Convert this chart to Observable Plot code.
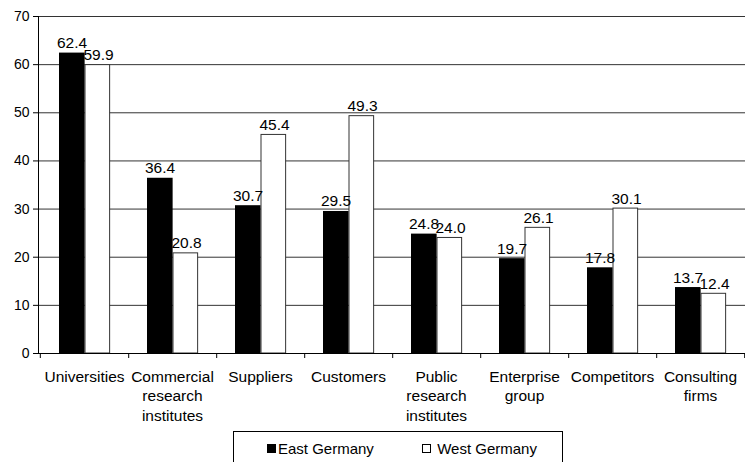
<!DOCTYPE html>
<html>
<head>
<meta charset="utf-8">
<script src="https://cdn.jsdelivr.net/npm/d3@7"></script>
<script src="https://cdn.jsdelivr.net/npm/@observablehq/plot@0.6"></script>
<style>
  html, body { margin: 0; padding: 0; background: #fff; }
  body { width: 745px; height: 462px; position: relative; overflow: hidden; font-family: "Liberation Sans", Arial, sans-serif; }
  #chart svg { display: block; }
  #legend { position: absolute; left: 233px; top: 431px; width: 330px; height: 40px; border: 1px solid #000; box-sizing: border-box; font-size: 15px; color: #000; }
  .item { position: absolute; top: 8px; display: flex; align-items: center; }
  .sw { display: inline-block; width: 9px; height: 9px; box-sizing: border-box; border: 1px solid #000; margin-right: 2px; }
</style>
</head>
<body>
<div id="chart"></div>
<div id="legend">
  <div class="item" style="left:33px"><span class="sw" style="background:#000"></span><span>East Germany</span></div>
  <div class="item" style="left:188px"><span class="sw" style="background:#fff"></span><span>&nbsp;West Germany</span></div>
</div>
<script>
const categories = ["Universities", "Commercial research institutes", "Suppliers", "Customers", "Public research institutes", "Enterprise group", "Competitors", "Consulting firms"];
const tickLabels = ["Universities", "Commercial\nresearch\ninstitutes", "Suppliers", "Customers", "Public\nresearch\ninstitutes", "Enterprise\ngroup", "Competitors", "Consulting\nfirms"];
const eastGermany = [62.4, 36.4, 30.7, 29.5, 24.8, 19.7, 17.8, 13.7];
const westGermany = [59.9, 20.8, 45.4, 49.3, 24.0, 26.1, 30.1, 12.4];
const yTicks = [0, 10, 20, 30, 40, 50, 60, 70];

const east = categories.map((c, i) => ({category: c, value: eastGermany[i]}));
const west = categories.map((c, i) => ({category: c, value: westGermany[i]}));
const labelOf = new Map(categories.map((c, i) => [c, tickLabels[i]]));

const W = 745, H = 428, ML = 38, MR = 0, MT = 16, MB = 75;
const bw = (W - ML - MR) / categories.length;

const chart = Plot.plot({
  width: W,
  height: H,
  marginLeft: ML,
  marginRight: MR,
  marginTop: MT,
  marginBottom: MB,
  style: {fontFamily: "'Liberation Sans', Arial, sans-serif", fontSize: "15px", color: "#000", background: "#fff"},
  x: {domain: categories, padding: 0},
  y: {domain: [0, 70]},
  marks: [
    Plot.gridY(yTicks, {stroke: "#333", strokeOpacity: 1}),
    Plot.barY(east, {x: "category", y: "value", fill: "#000", insetLeft: 19, insetRight: bw - 45}),
    Plot.barY(west, {x: "category", y: "value", fill: "#fff", stroke: "#333", strokeWidth: 1, insetLeft: 45, insetRight: bw - 70}),
    Plot.text(east, {x: "category", y: "value", text: d => d.value.toFixed(1), dx: -12.5, dy: -5, lineAnchor: "bottom", fontSize: 15.5}),
    Plot.text(west, {x: "category", y: "value", text: d => d.value.toFixed(1), dx: 14, dy: -5, lineAnchor: "bottom", fontSize: 15.5}),
    Plot.ruleY([0], {stroke: "#000"}),
    Plot.frame({anchor: "left", stroke: "#000"}),
    Plot.ruleX(categories, {x: d => d, dx: bw / 2, y1: 0, y2: 0, insetBottom: -5, stroke: "#000"}),
    Plot.ruleX(categories.slice(0, 1), {x: d => d, dx: -bw / 2, y1: 0, y2: 0, insetBottom: -5, stroke: "#000"}),
    Plot.axisY({ticks: yTicks, tickSize: 5, tickPadding: 4, label: null, fontSize: 14}),
    Plot.axisX({tickSize: 0, tickPadding: 15, label: null, fontSize: 15.5, lineHeight: 1.24, tickFormat: d => labelOf.get(d)})
  ]
});
document.getElementById("chart").appendChild(chart);
</script>
</body>
</html>
